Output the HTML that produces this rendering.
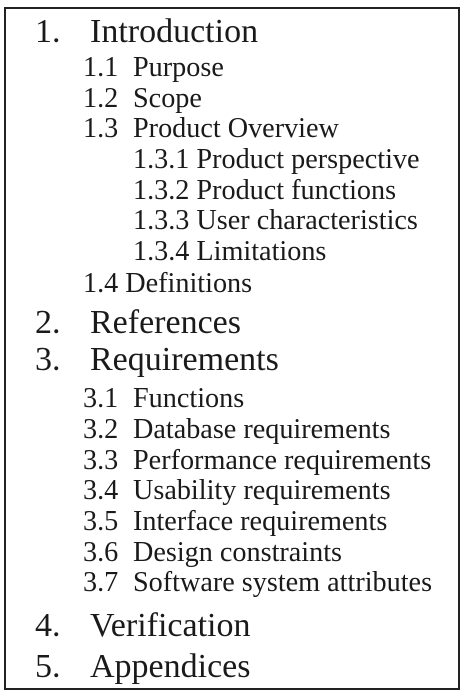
<!DOCTYPE html>
<html><head><meta charset="utf-8"><style>
html,body{margin:0;padding:0;background:#fff;width:466px;height:697px;overflow:hidden}
svg{display:block}
text{font-family:"Liberation Serif","Times New Roman",serif;fill:#1a1a1a}
.b{font-size:34px}
.s{font-size:28.2px}
</style></head><body>
<svg width="466" height="697" viewBox="0 0 466 697">
<rect x="5" y="8" width="454" height="681" fill="none" stroke="#222" stroke-width="2"/>
<text class="b" x="35" y="42">1.</text><text class="b" x="90" y="42">Introduction</text>
<text class="s" x="83" y="76">1.1</text><text class="s" x="133" y="76">Purpose</text>
<text class="s" x="83" y="107">1.2</text><text class="s" x="133" y="107">Scope</text>
<text class="s" x="83" y="137">1.3</text><text class="s" x="133" y="137">Product Overview</text>
<text class="s" x="133" y="168">1.3.1 Product perspective</text>
<text class="s" x="133" y="199">1.3.2 Product functions</text>
<text class="s" x="133" y="229">1.3.3 User characteristics</text>
<text class="s" x="133" y="260">1.3.4 Limitations</text>
<text class="s" x="83" y="292">1.4 Definitions</text>
<text class="b" x="35" y="333">2.</text><text class="b" x="90" y="333">References</text>
<text class="b" x="35" y="370">3.</text><text class="b" x="90" y="370">Requirements</text>
<text class="s" x="83" y="407">3.1</text><text class="s" x="133" y="407">Functions</text>
<text class="s" x="83" y="438">3.2</text><text class="s" x="133" y="438">Database requirements</text>
<text class="s" x="83" y="469">3.3</text><text class="s" x="133" y="469">Performance requirements</text>
<text class="s" x="83" y="499">3.4</text><text class="s" x="133" y="499">Usability requirements</text>
<text class="s" x="83" y="530">3.5</text><text class="s" x="133" y="530">Interface requirements</text>
<text class="s" x="83" y="561">3.6</text><text class="s" x="133" y="561">Design constraints</text>
<text class="s" x="83" y="591">3.7</text><text class="s" x="133" y="591">Software system attributes</text>
<text class="b" x="35" y="636">4.</text><text class="b" x="90" y="636">Verification</text>
<text class="b" x="35" y="677">5.</text><text class="b" x="90" y="677">Appendices</text>
</svg>
</body></html>
